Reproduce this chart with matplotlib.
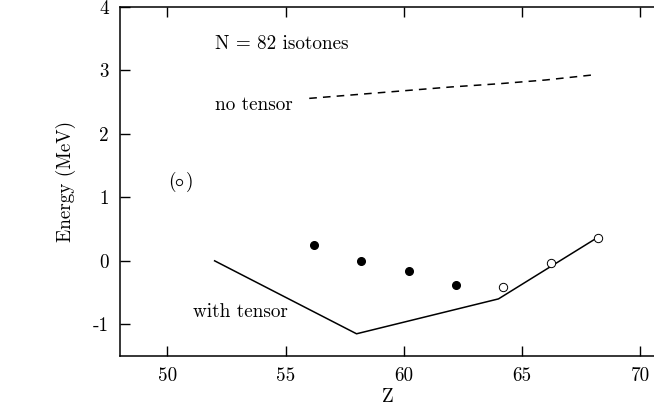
import matplotlib
matplotlib.use("Agg")
import matplotlib.pyplot as plt

plt.rcParams['font.family'] = 'serif'
plt.rcParams['font.serif'] = ['cmr10', 'DejaVu Serif']
plt.rcParams['mathtext.fontset'] = 'cm'
plt.rcParams['axes.unicode_minus'] = False
plt.rcParams['axes.formatter.use_mathtext'] = True

# no-tensor (dashed) curve
z_notensor = [56, 58, 60, 62, 64, 66, 68]
e_notensor = [2.56, 2.62, 2.68, 2.74, 2.79, 2.85, 2.93]

# with-tensor (solid) curve
z_tensor = [52, 58, 64, 68.2]
e_tensor = [0.0, -1.15, -0.6, 0.37]

# experimental points
z_filled = [56.2, 58.2, 60.2, 62.2]
e_filled = [0.25, 0.0, -0.16, -0.38]
z_open = [64.2, 66.2, 68.2]
e_open = [-0.41, -0.04, 0.36]

xticks = [50, 55, 60, 65, 70]
yticks = [-1, 0, 1, 2, 3, 4]
ytick_labels = ['-1', '0', '1', '2', '3', '4']

FS = 13.8

fig = plt.figure(figsize=(6.54, 4.09), dpi=100)
ax = fig.add_axes([120/654, 1-356/409, 1-120/654+0.002, (356-7)/409])

ax.plot(z_notensor, e_notensor, color='black', lw=1.1, ls=(0, (5, 4)))
ax.plot(z_tensor, e_tensor, color='black', lw=1.1)
ax.plot(z_filled, e_filled, 'o', color='black', ms=5.5)
ax.plot(z_open, e_open, 'o', mfc='white', mec='black', mew=0.7, ms=6)

ax.set_xlim(48, 70.63)
ax.set_ylim(-1.5, 4)
ax.set_xticks(xticks)
ax.set_xticklabels([str(t) for t in xticks])
ax.set_yticks(yticks)
ax.set_yticklabels(ytick_labels)
ax.tick_params(direction='in', length=7, width=1, top=True, right=False, labelsize=FS, pad=8)
ax.spines['right'].set_visible(False)
for s in ['left', 'bottom', 'top']:
    ax.spines[s].set_linewidth(1.1)

ax.set_xlabel('Z', fontsize=FS, labelpad=2)
ax.set_ylabel('Energy (MeV)', fontsize=FS, labelpad=12)

ax.text(52.0, 3.41, 'N = 82 isotones', fontsize=FS, va='center', ha='left')
ax.text(52.0, 2.46, 'no tensor', fontsize=FS, va='center', ha='left')
ax.text(50.05, 1.24, '(', fontsize=FS, va='center', ha='left')
ax.plot([50.5], [1.24], 'o', mfc='white', mec='black', mew=0.7, ms=4.5)
ax.text(50.8, 1.24, ')', fontsize=FS, va='center', ha='left')
ax.text(51.1, -0.8, 'with tensor', fontsize=FS, va='center', ha='left')

fig.savefig('out.png', dpi=100)
